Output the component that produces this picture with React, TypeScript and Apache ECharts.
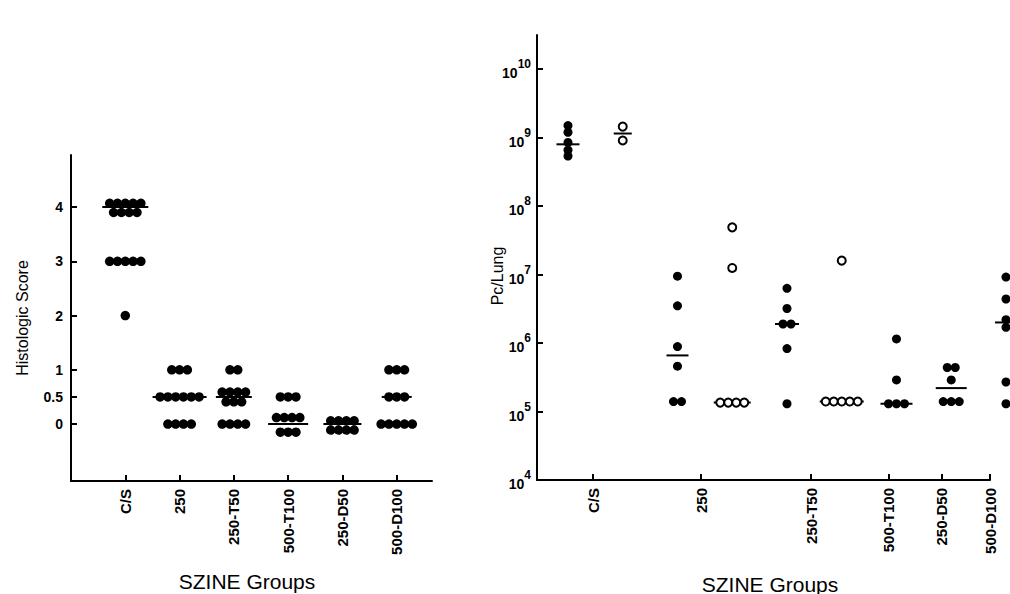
import React, { useEffect, useRef } from "react";
import * as echarts from "echarts";

// ---------- Left panel: histologic score ----------
const leftGroups = ["C/S", "250", "250-T50", "500-T100", "250-D50", "500-D100"];
const leftPositions = [1, 2, 3, 4, 5, 6];
const scoresCS = [4.07, 4.07, 4.07, 4.07, 4.07, 3.9, 3.9, 3.9, 3.9, 3, 3, 3, 3, 3, 2];
const scores250 = [1, 1, 1, 0.5, 0.5, 0.5, 0.5, 0.5, 0.5, 0, 0, 0, 0];
const scores250T50 = [1, 1, 0.59, 0.59, 0.59, 0.59, 0.41, 0.41, 0.41, 0, 0, 0, 0];
const scores500T100 = [0.5, 0.5, 0.5, 0.12, 0.12, 0.12, 0.12, -0.15, -0.15, -0.15];
const scores250D50 = [0.06, 0.06, 0.06, 0.06, -0.11, -0.11, -0.11, -0.11];
const scores500D100 = [1, 1, 1, 0.5, 0.5, 0.5, 0, 0, 0, 0, 0];
const leftScores = [scoresCS, scores250, scores250T50, scores500T100, scores250D50, scores500D100];
const leftMedians = [4, 0.5, 0.5, 0, 0, 0.5];
const leftTicks = [0, 0.5, 1, 2, 3, 4];

// ---------- Right panel: Pc / lung ----------
const rightGroups = ["C/S", "250", "250-T50", "500-T100", "250-D50", "500-D100"];
const rightTickPos = [1.457, 3.43, 5.44, 6.86, 7.83, 8.708];
const rightColumns = [1, 2, 3, 4, 5, 6, 7, 8, 9];
const rightFilled = [true, false, true, false, true, false, true, true, true];
const pcCSfilled = [1.5e9, 1.2e9, 8.5e8, 6.6e8, 5.4e8];
const pcCSopen = [1.45e9, 9.1e8];
const pc250filled = [9.5e6, 3.5e6, 8.9e5, 4.6e5, 1.4e5, 1.4e5];
const pc250open = [4.9e7, 1.25e7, 1.35e5, 1.35e5, 1.35e5, 1.35e5];
const pc250T50filled = [6.3e6, 3.2e6, 1.9e6, 1.9e6, 8.3e5, 1.3e5];
const pc250T50open = [1.6e7, 1.4e5, 1.4e5, 1.4e5, 1.4e5, 1.4e5];
const pc500T100 = [1.15e6, 2.9e5, 1.3e5, 1.3e5, 1.3e5];
const pc250D50 = [4.4e5, 4.4e5, 2.9e5, 1.4e5, 1.4e5, 1.4e5];
const pc500D100 = [9.2e6, 4.4e6, 2.2e6, 1.7e6, 2.7e5, 1.3e5];
const rightValues = [pcCSfilled, pcCSopen, pc250filled, pc250open, pc250T50filled, pc250T50open, pc500T100, pc250D50, pc500D100];
const rightMeans = [8e8, 1.15e9, 6.6e5, 1.35e5, 1.9e6, 1.4e5, 1.3e5, 2.2e5, 2.0e6];
const rightDecades = [1e4, 1e5, 1e6, 1e7, 1e8, 1e9, 1e10];

// ---------- styles ----------
const FONT = "Liberation Sans, Arial, sans-serif";
const LEFT_SPACING = 7.8;
const RIGHT_SPACING = 8;
const leftMeanWidths = [46, 54, 36, 40, 38, 30];
const rightMeanWidths = [23, 18, 22, 37, 24, 44, 32, 31, 22];

function rowOffsets(vals: number[], spacing: number): number[] {
  const counts = new Map<number, number>();
  vals.forEach((v) => counts.set(v, (counts.get(v) || 0) + 1));
  const seen = new Map<number, number>();
  return vals.map((v) => {
    const n = counts.get(v) as number;
    const i = seen.get(v) || 0;
    seen.set(v, i + 1);
    return (i - (n - 1) / 2) * spacing;
  });
}

export default function App() {
  const ref = useRef<HTMLDivElement>(null);

  useEffect(() => {
    if (!ref.current) return;
    const chart = echarts.init(ref.current, undefined, { renderer: "svg" });

    const leftDots: any[] = [];
    leftScores.forEach((vals, gi) => {
      const offs = rowOffsets(vals, LEFT_SPACING);
      vals.forEach((v, i) => leftDots.push({ value: [leftPositions[gi], v], symbolOffset: [offs[i], 0] }));
    });
    const leftMeanData = leftMedians.map((m, gi) => ({
      value: [leftPositions[gi], m],
      symbolSize: [leftMeanWidths[gi], 2],
    }));

    const filledDots: any[] = [];
    const openDots: any[] = [];
    rightValues.forEach((vals, ci) => {
      const offs = rowOffsets(vals, RIGHT_SPACING);
      vals.forEach((v, i) => {
        const item = { value: [rightColumns[ci], v], symbolOffset: [offs[i], 0] };
        (rightFilled[ci] ? filledDots : openDots).push(item);
      });
    });
    const rightMeanData = rightMeans.map((m, ci) => ({
      value: [rightColumns[ci], m],
      symbolSize: [rightMeanWidths[ci], 2],
    }));

    const axisLine = { show: true, onZero: false, lineStyle: { color: "#000", width: 2 } };
    const tick = (vals: number[]) => ({
      show: true,
      inside: true,
      length: 6,
      lineStyle: { color: "#000", width: 2 },
      customValues: vals,
    });
    const xLabel = {
      rotate: 90,
      fontSize: 15,
      fontWeight: "bold",
      color: "#000",
      fontFamily: FONT,
      margin: 8,
    };
    const black = { color: "#000", opacity: 1 };

    chart.setOption({
      animation: false,
      backgroundColor: "#fff",
      grid: [
        { left: 71, top: 155, width: 361, height: 326 },
        { left: 537, top: 35, width: 453, height: 445 },
      ],
      xAxis: [
        {
          gridIndex: 0,
          type: "value",
          min: 0,
          max: 6.65,
          axisLine,
          axisTick: tick(leftPositions),
          axisLabel: {
            ...xLabel,
            customValues: leftPositions,
            formatter: (v: number) => leftGroups[Math.round(v) - 1] || "",
          },
          splitLine: { show: false },
        },
        {
          gridIndex: 1,
          type: "value",
          min: 0.434,
          max: 8.708,
          axisLine,
          axisTick: tick(rightTickPos),
          axisLabel: {
            ...xLabel,
            customValues: rightTickPos,
            formatter: (v: number) => {
              const i = rightTickPos.findIndex((p) => Math.abs(p - v) < 1e-6);
              return i >= 0 ? rightGroups[i] : "";
            },
          },
          splitLine: { show: false },
        },
      ],
      yAxis: [
        {
          gridIndex: 0,
          type: "value",
          min: -1.05,
          max: 4.96,
          axisLine,
          axisTick: tick(leftTicks),
          axisLabel: {
            customValues: leftTicks,
            formatter: (v: number) => String(v),
            fontSize: 14,
            fontWeight: "bold",
            color: "#000",
            fontFamily: FONT,
            margin: 8,
          },
          splitLine: { show: false },
        },
        {
          gridIndex: 1,
          type: "log",
          logBase: 10,
          min: 1e4,
          max: 3.16e10,
          axisLine,
          axisTick: tick(rightDecades),
          axisLabel: {
            customValues: rightDecades,
            formatter: (v: number) => `{b|10}{s|${Math.round(Math.log10(v))}}`,
            color: "#000",
            margin: 6,
            rich: {
              b: { fontSize: 14, fontWeight: "bold", fontFamily: FONT, color: "#000", verticalAlign: "bottom", lineHeight: 22 },
              s: { fontSize: 12, fontWeight: "bold", fontFamily: FONT, color: "#000", verticalAlign: "top", lineHeight: 22 },
            },
          },
          splitLine: { show: false },
        },
      ],
      series: [
        {
          type: "scatter",
          xAxisIndex: 0,
          yAxisIndex: 0,
          symbol: "rect",
          data: leftMeanData,
          itemStyle: black,
          clip: false,
          z: 1,
        },
        {
          type: "scatter",
          xAxisIndex: 0,
          yAxisIndex: 0,
          symbol: "circle",
          symbolSize: 9.5,
          data: leftDots,
          itemStyle: black,
          clip: false,
          z: 2,
        },
        {
          type: "scatter",
          xAxisIndex: 1,
          yAxisIndex: 1,
          symbol: "rect",
          data: rightMeanData,
          itemStyle: black,
          clip: false,
          z: 1,
        },
        {
          type: "scatter",
          xAxisIndex: 1,
          yAxisIndex: 1,
          symbol: "circle",
          symbolSize: 9,
          data: filledDots,
          itemStyle: black,
          clip: false,
          z: 2,
        },
        {
          type: "scatter",
          xAxisIndex: 1,
          yAxisIndex: 1,
          symbol: "circle",
          symbolSize: 8,
          data: openDots,
          itemStyle: { color: "#fff", borderColor: "#000", borderWidth: 2, opacity: 1 },
          clip: false,
          z: 3,
        },
      ],
      graphic: [
        {
          type: "text",
          x: 247,
          y: 581,
          style: { text: "SZINE Groups", font: `21px ${FONT}`, fill: "#000", textAlign: "center", textVerticalAlign: "middle" },
        },
        {
          type: "text",
          x: 770,
          y: 584,
          style: { text: "SZINE Groups", font: `21px ${FONT}`, fill: "#000", textAlign: "center", textVerticalAlign: "middle" },
        },
        {
          type: "text",
          x: 22,
          y: 318,
          rotation: Math.PI / 2,
          style: { text: "Histologic Score", font: `16px ${FONT}`, fill: "#000", textAlign: "center", textVerticalAlign: "middle" },
        },
        {
          type: "text",
          x: 497,
          y: 276,
          rotation: Math.PI / 2,
          style: { text: "Pc/Lung", font: `16px ${FONT}`, fill: "#000", textAlign: "center", textVerticalAlign: "middle" },
        },
      ],
    });

    return () => chart.dispose();
  }, []);

  return (
    <div
      ref={ref}
      style={{ position: "absolute", left: 0, top: 0, width: 1010, height: 594, background: "#fff" }}
    />
  );
}
